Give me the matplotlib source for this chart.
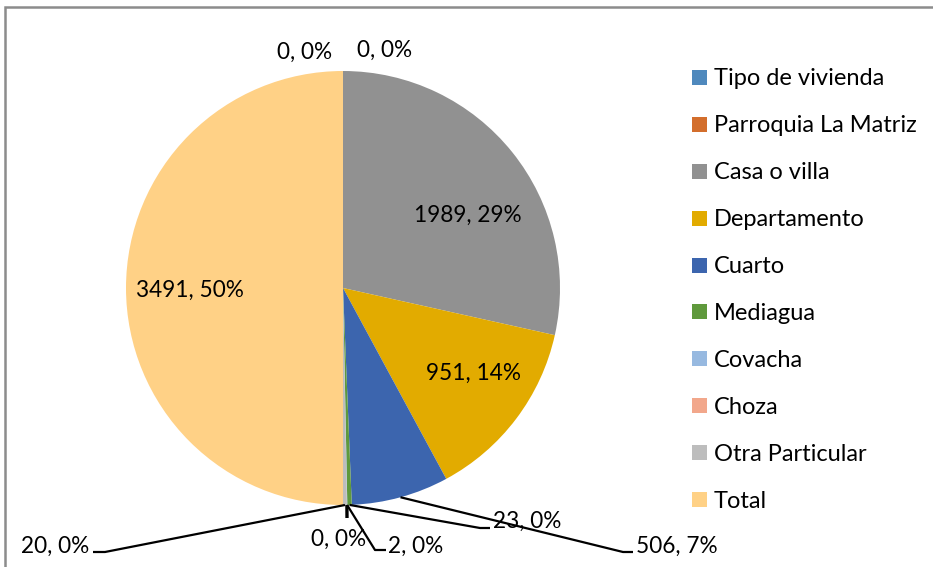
import matplotlib
matplotlib.use("Agg")
import matplotlib.pyplot as plt
import numpy as np
from matplotlib.patches import Patch, Rectangle

plt.rcParams['font.family'] = ['Lato', 'DejaVu Sans']

categories = ["Tipo de vivienda", "Parroquia La Matriz", "Casa o villa", "Departamento",
              "Cuarto", "Mediagua", "Covacha", "Choza", "Otra Particular", "Total"]
values = [0, 0, 1989, 951, 506, 23, 2, 0, 20, 3491]
percent_labels = ["0%", "0%", "29%", "14%", "7%", "0%", "0%", "0%", "0%", "50%"]
colors = ["#4F89BD", "#D36E2C", "#919191", "#E2AB00", "#3C65AE",
          "#5F993C", "#97B9E0", "#F2A78B", "#BDBDBD", "#FFD186"]

W, H = 933, 567
fig = plt.figure(figsize=(W / 100, H / 100), dpi=100)
ax = fig.add_axes([0, 0, 1, 1])
ax.set_xlim(0, W)
ax.set_ylim(0, H)
ax.set_aspect('equal')
ax.axis('off')

def Y(y):
    return H - y

cx, cy, R = 343, 288, 217
wedges, _ = ax.pie(values, colors=colors, startangle=90, counterclock=False,
                   center=(cx, Y(cy)), radius=R, frame=True,
                   wedgeprops=dict(linewidth=0))
ax.set_xlim(0, W)
ax.set_ylim(0, H)
ax.axis('off')

# border
fig.patches.append(Rectangle((5 / W, -0.1), 2.0, (H - 7) / H + 0.1, transform=fig.transFigure,
                             fill=False, edgecolor="#8C8C8C", linewidth=1.8))

fs = 16.3
texts = [f"{v}, {p}" for v, p in zip(values, percent_labels)]

# label positions (pixel coords) and alignments
label_pos = {
    0: (305, 52, 'center'),
    1: (385, 50, 'center'),
    2: (468, 215, 'center'),
    3: (474, 373, 'center'),
    4: (636, 546, 'left'),
    5: (493, 521, 'left'),
    6: (388, 546, 'left'),
    7: (339, 539, 'center'),
    8: (89, 546, 'right'),
    9: (190, 290, 'center'),
}
for i, (x, y, ha) in label_pos.items():
    ax.text(x, Y(y), texts[i], fontsize=fs, ha=ha, va='center', color='black')

# leader lines
def edge_point(i, r=R):
    total = sum(values)
    start = sum(values[:i]) / total
    mid = start + values[i] / total / 2
    ang = np.deg2rad(90 - 360 * mid)
    return cx + r * np.cos(ang), cy - r * np.sin(ang)

leaders = {
    4: [(623, 552), (633, 552)],
    5: [(480, 528), (490, 528)],
    6: [(375, 550), (386, 550)],
    7: [(347, 518)],
    8: [(105, 552), (93, 552)],
}
for i, pts in leaders.items():
    x0, y0 = edge_point(i)
    xs = [x0] + [p[0] for p in pts]
    ys = [Y(y0)] + [Y(p[1]) for p in pts]
    ax.plot(xs, ys, color='black', linewidth=1.6 if i != 7 else 2.4,
            solid_capstyle='butt')

lfs = 17
handles = [Patch(facecolor=c, edgecolor='none') for c in colors]
leg = ax.legend(handles, categories, loc='upper left', bbox_to_anchor=(683 / W, 1 - 59 / H),
                frameon=False, fontsize=lfs, handlelength=0.6, handleheight=0.6,
                handletextpad=0.3, labelspacing=1.1, borderaxespad=0)

fig.savefig("out.png", dpi=100)
